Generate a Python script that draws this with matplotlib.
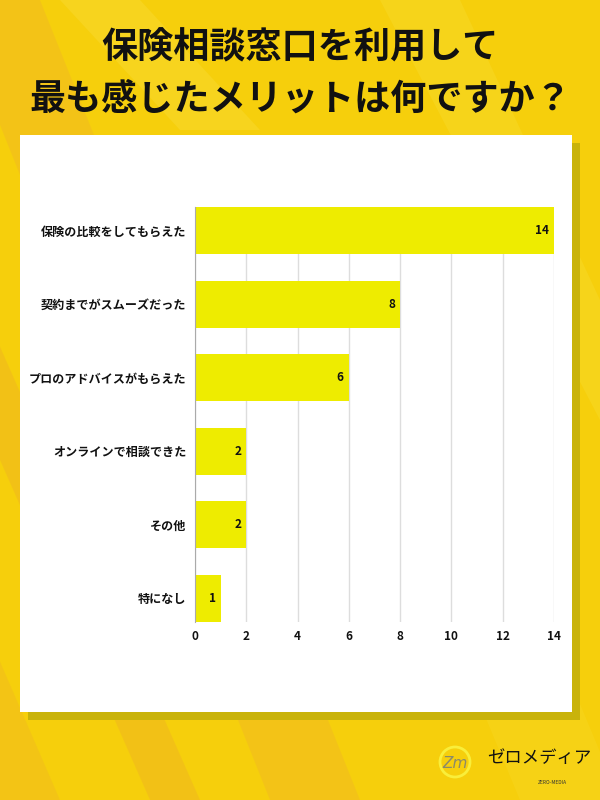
import matplotlib
matplotlib.use("Agg")
import matplotlib.pyplot as plt
from matplotlib.patches import Rectangle, Polygon, Circle

plt.rcParams['font.family'] = ['Noto Sans CJK JP', 'DejaVu Sans']

categories = ["保険の比較をしてもらえた", "契約までがスムーズだった", "プロのアドバイスがもらえた",
              "オンラインで相談できた", "その他", "特になし"]
values = [14, 8, 6, 2, 2, 1]
xticks = [0, 2, 4, 6, 8, 10, 12, 14]
title = "保険相談窓口を利用して\n最も感じたメリットは何ですか？"

W, H = 600, 800
fig = plt.figure(figsize=(6, 8), dpi=100)
fig.patch.set_facecolor("#F6CF0C")

def P(x, y):
    return (x / W, 1 - y / H)

# background diagonal stripes
bg = fig.add_axes([0, 0, 1, 1], zorder=-10)
bg.set_xlim(0, W); bg.set_ylim(H, 0); bg.axis("off")
bg.add_patch(Rectangle((0, 0), W, H, color="#F6CF0C"))
stripes = [
    ([(-50, 0), (40, 0), (360, 800), (270, 800)], "#F3BF1C", 0.7),
    ([(-150, 120), (-100, 120), (200, 800), (150, 800)], "#F0B520", 0.5),
    ([(-300, 200), (-200, 200), (60, 800), (-40, 800)], "#F1BB1E", 0.5),
    ([(380, 0), (460, 0), (600, 300), (600, 420)], "#F8DC30", 0.4),
    ([(60, 0), (140, 0), (260, 130), (180, 130)], "#F9DE40", 0.35),
    ([(420, 560), (520, 560), (620, 800), (520, 800)], "#F8D824", 0.4),
]
for pts, c, a in stripes:
    bg.add_patch(Polygon(pts, closed=True, color=c, alpha=a, lw=0))

# panel shadow and panel
bg.add_patch(Rectangle((28, 143), 552, 577, color="#C9B30A", lw=0))
bg.add_patch(Rectangle((20, 135), 552, 577, color="white", lw=0))

# title
fig.text(0.5, P(0, 73.5)[1], title, ha="center", va="center", fontsize=26,
         fontweight="bold", color="#111111", linespacing=1.5)

# logo
bg.add_patch(Circle((455, 762), 15, fill=False, ec="#F9EE3A", lw=2))
bg.text(455, 763, "Zm", ha="center", va="center", fontsize=11, color="#8A8A6A",
        style="italic", family="DejaVu Sans")
bg.text(539, 758, "ゼロメディア", ha="center", va="center", fontsize=12.5, color="#111111")
bg.text(552, 783, "ZERO-MEDIA", ha="center", va="center", fontsize=3.5, color="#333333")

# chart
ax = fig.add_axes([195 / W, 1 - 622 / H, (554 - 195) / W, (622 - 207) / H])
ax.set_facecolor("none")
y = list(range(len(categories)))
bh = 0.64
ax.barh(y, values, height=bh, color="#EEEC00", zorder=3)
ax.set_ylim(len(categories) - 1 + bh / 2, -bh / 2)
ax.set_xlim(0, 14)
ax.set_xticks(xticks)
ax.set_xticklabels([str(t) for t in xticks], fontsize=8.5, fontweight="bold")
ax.set_yticks(y)
ax.set_yticklabels(categories, fontsize=8.7, fontweight="bold")
ax.tick_params(axis="both", length=0, pad=6, colors="#111111")
ax.tick_params(axis="x", pad=6)
ax.grid(axis="x", color="#DDDDDD", lw=1, zorder=0)
for s in ["top", "right", "bottom"]:
    ax.spines[s].set_visible(False)
ax.spines["left"].set_color("#AAAAAA")
ax.spines["left"].set_zorder(4)
for yi, v in zip(y, values):
    ax.text(v - 0.2, yi, str(v), ha="right", va="center", fontsize=8.5,
            fontweight="bold", color="#111111", zorder=5)

fig.savefig("out.png", dpi=100)
